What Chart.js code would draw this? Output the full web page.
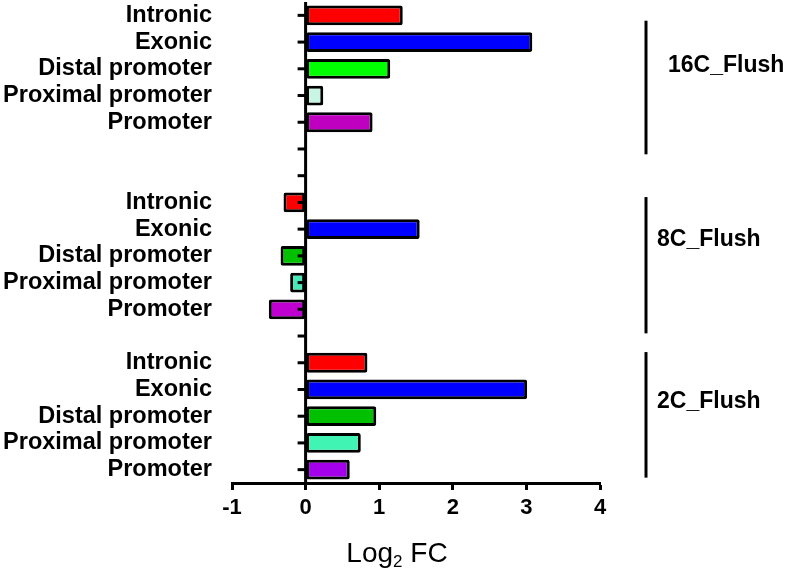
<!DOCTYPE html>
<html>
<head>
<meta charset="utf-8">
<script src="https://cdn.jsdelivr.net/npm/chart.js@4.4.1/dist/chart.umd.min.js"></script>
<style>
  body { margin: 0; background: #fff; }
</style>
</head>
<body>
<canvas id="fcChart" width="787" height="569"></canvas>
<script>
// categories top to bottom, blanks are the gaps between groups
const categories = [
    "Intronic", "Exonic", "Distal promoter", "Proximal promoter", "Promoter",
    "", "",
    "Intronic", "Exonic", "Distal promoter", "Proximal promoter", "Promoter",
    "",
    "Intronic", "Exonic", "Distal promoter", "Proximal promoter", "Promoter"
];
const flush16C = [1.32, 3.08, 1.15, 0.24, 0.91];
const flush8C = [-0.30, 1.55, -0.34, -0.21, -0.50];
const flush2C = [0.84, 3.01, 0.96, 0.75, 0.60];
const groupNames = ["16C_Flush", "8C_Flush", "2C_Flush"];
const xTicks = [-1, 0, 1, 2, 3, 4];

const values = [...flush16C, null, null, ...flush8C, null, ...flush2C];

const barColors = [
    "#ff0000", "#0000ff", "#00ff00", "#c8f5e4", "#c000c0",
    null, null,
    "#ff0000", "#0000ff", "#00c000", "#48e8b8", "#c000d0",
    null,
    "#ff0000", "#0000ff", "#00c000", "#40f4b4", "#a400ec"
];

const FONT = "'Liberation Sans', Arial, sans-serif";

// y axis drawn at x = 0 with small ticks, group brackets on the right, x title
const extrasPlugin = {
    id: "extras",
    afterDatasetsDraw(chart) {
        const { ctx, chartArea, scales } = chart;
        const x = scales.x, y = scales.y;
        const x0 = x.getPixelForValue(0);
        ctx.save();
        ctx.strokeStyle = "#000";
        ctx.lineWidth = 3;
        ctx.beginPath();
        ctx.moveTo(x0, chartArea.top);
        ctx.lineTo(x0, chartArea.bottom + 1);
        ctx.stroke();
        categories.forEach((c, i) => {
            const py = y.getPixelForValue(i);
            ctx.beginPath();
            ctx.moveTo(x0 - 8, py);
            ctx.lineTo(x0, py);
            ctx.stroke();
        });

        // group brackets
        const spans = [[0.2, 5.2, 1.85, 22], [6.8, 11.9, 8.35, 11], [12.6, 17.3, 14.4, 11]];
        const lineX = chartArea.right + 46;
        ctx.font = "bold 23px " + FONT;
        ctx.fillStyle = "#000";
        ctx.textBaseline = "middle";
        ctx.textAlign = "left";
        groupNames.forEach((name, g) => {
            const s = spans[g];
            ctx.beginPath();
            ctx.moveTo(lineX, y.getPixelForValue(s[0]));
            ctx.lineTo(lineX, y.getPixelForValue(s[1]));
            ctx.stroke();
            ctx.fillText(name, lineX + s[3], y.getPixelForValue(s[2]) + 1);
        });

        // x title with subscript
        ctx.textBaseline = "alphabetic";
        const base = chart.height - 7;
        const big = "28px " + FONT, small = "17px " + FONT;
        ctx.font = big;
        const w1 = ctx.measureText("Log").width;
        const w3 = ctx.measureText(" FC").width;
        ctx.font = small;
        const w2 = ctx.measureText("2").width;
        let sx = (chartArea.left + chartArea.right) / 2 - 19 - (w1 + w2 + w3) / 2;
        ctx.font = big;
        ctx.fillText("Log", sx, base);
        ctx.font = small;
        ctx.fillText("2", sx + w1, base + 5);
        ctx.font = big;
        ctx.fillText(" FC", sx + w1 + w2, base);
        ctx.restore();
    }
};

new Chart(document.getElementById("fcChart").getContext("2d"), {
    type: "bar",
    data: {
        labels: categories,
        datasets: [{
            data: values,
            backgroundColor: barColors,
            borderColor: "#000",
            borderWidth: 3,
            borderRadius: 2,
            borderSkipped: false,
            categoryPercentage: 1,
            barPercentage: 0.74
        }]
    },
    options: {
        indexAxis: "y",
        responsive: false,
        animation: false,
        layout: { padding: { top: 2, right: 187, left: 0, bottom: 0 } },
        plugins: {
            legend: { display: false },
            tooltip: { enabled: false }
        },
        scales: {
            x: {
                min: -1,
                max: 4,
                afterBuildTicks: (scale) => { scale.ticks = xTicks.map(v => ({ value: v })); },
                afterFit: (scale) => { scale.height = 86; },
                grid: {
                    drawOnChartArea: false,
                    drawTicks: true,
                    tickLength: 7,
                    tickWidth: 3,
                    tickColor: "#000"
                },
                border: { color: "#000", width: 3 },
                ticks: {
                    color: "#000",
                    padding: 5,
                    font: { family: FONT, size: 22, weight: "bold" }
                }
            },
            y: {
                afterFit: (scale) => {
                    scale.width = 232;
                    scale.paddingTop = 0;
                    scale.paddingBottom = 0;
                },
                grid: { display: false },
                border: { display: false },
                ticks: {
                    color: "#000",
                    padding: 12,
                    autoSkip: false,
                    font: { family: FONT, size: 23.5, weight: "bold" }
                }
            }
        }
    },
    plugins: [extrasPlugin]
});
</script>
</body>
</html>
